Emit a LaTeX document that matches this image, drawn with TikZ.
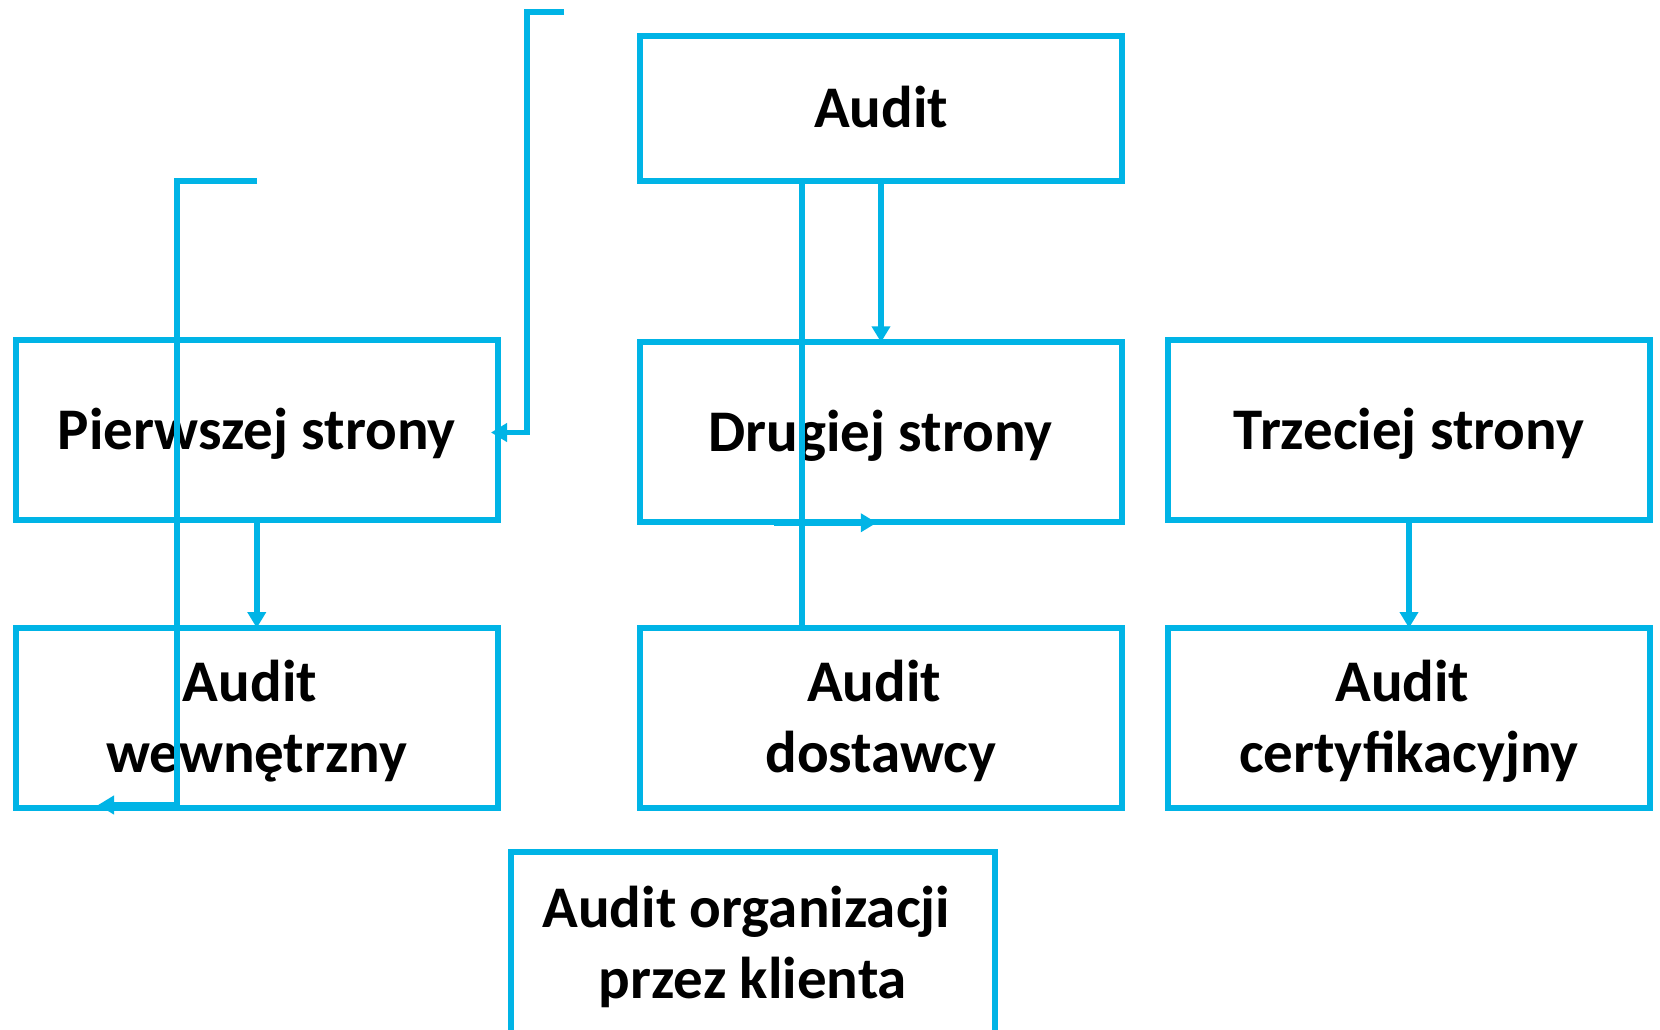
\documentclass[tikz,border=0pt]{standalone}
\usepackage{fontspec}
\setmainfont{Carlito}
\usetikzlibrary{arrows.meta}
\definecolor{auditblue}{RGB}{0,180,230}
\begin{document}
\begin{tikzpicture}[x=1pt,y=-1pt,
  every node/.style={font=\fontsize{59}{71}\selectfont\bfseries},
  box/.style={draw=auditblue,line width=6pt,minimum width=482.5pt,minimum height=180pt,
              inner sep=0pt,outer sep=0pt,align=center,text depth=0pt},
  oneline/.style={text height=38pt},
  twoline/.style={text height=109pt},
  conn/.style={draw=auditblue,line width=5.5pt},
  arr/.style={conn,-{Triangle[length=16pt,width=18pt]}}]

\fill[white] (0,0) rectangle (1660,1029);
\useasboundingbox (0,0) rectangle (1660,1029);
\clip (0,0) rectangle (1660,1029);

% boxes
\node[box,oneline,minimum height=145pt] (audit) at (881,108) {Audit};
\node[box,oneline] (p1) at (256.75,430) {Pierwszej strony};
\node[box,oneline] (p2) at (880.75,432.25) {Drugiej strony};
\node[box,oneline] (p3) at (1409,430) {Trzeciej strony};
\node[box,twoline] (a1) at (256.75,718) {Audit\kern13.5pt\\wewnętrzny};
\node[box,twoline] (a2) at (880.75,718) {Audit\kern13.5pt\\dostawcy};
\node[box,twoline] (a3) at (1409,718) {Audit\kern13.5pt\\certyfikacyjny};
\node[box,twoline,minimum width=484pt,minimum height=183pt] (a4) at (753,943.5)
  {Audit organizacji\kern13.5pt\\przez klienta};

% free line ends
\coordinate (lfree) at (257,181);
\coordinate (tfree) at (564,12);

% connectors
\draw[arr] (audit.south) -- (audit.south |- p2.north);
\draw[arr] (p1.south) -- (a1.north);
\draw[arr] (p3.south) -- (a3.north);
\draw[conn] ([xshift=-79pt]audit.south) -- ([xshift=-79pt]audit.south |- a2.north);
\draw[arr] ([xshift=-107pt,yshift=-0.5pt]p2.south) -- ([xshift=-4pt,yshift=-0.5pt]p2.south);
\draw[arr] (lfree) -| ([xshift=161.5pt,yshift=3pt]a1.south west)
  -- ([xshift=82.5pt,yshift=3pt]a1.south west);
\draw[arr] (tfree) -| ([xshift=29pt,yshift=-2.5pt]p1.east)
  -- ([xshift=-7pt,yshift=-2.5pt]p1.east);
\end{tikzpicture}
\end{document}
